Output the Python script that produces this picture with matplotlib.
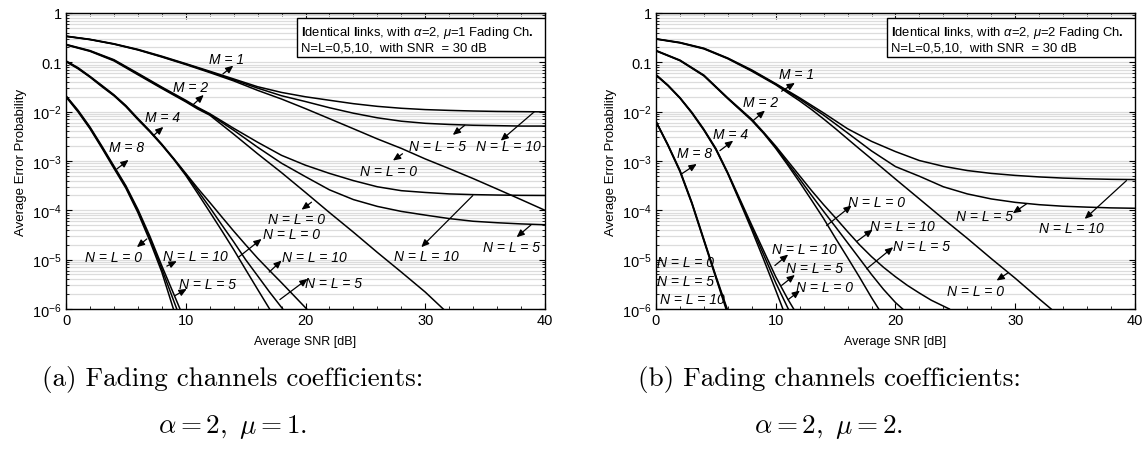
import numpy as np
import matplotlib.pyplot as plt
from matplotlib.patches import Rectangle
from matplotlib.ticker import (FixedLocator, FixedFormatter, MultipleLocator,
                               LogLocator, NullFormatter)

plt.rcParams['font.family'] = ['Liberation Sans', 'DejaVu Sans']
plt.rcParams['mathtext.fontset'] = 'custom'
plt.rcParams['mathtext.rm'] = 'Liberation Sans'
plt.rcParams['mathtext.it'] = 'Liberation Sans:italic'
plt.rcParams['mathtext.bf'] = 'Liberation Sans:bold'
plt.rcParams['axes.unicode_minus'] = False

# ---------------- panel (a): alpha=2, mu=1 ----------------
a_m1_snr = [0, 2, 4, 6, 8, 10, 12, 14, 16, 18, 20, 22, 24, 26, 28, 30, 32, 34, 36, 38, 40]
a_m1_nl0 = [0.335, 0.288, 0.233, 0.178, 0.128, 0.090, 0.062, 0.042, 0.027, 0.018, 0.0115,
            0.0072, 0.0045, 0.0028, 0.0018, 0.0011, 7.0e-4, 4.4e-4, 2.7e-4, 1.65e-4, 1.0e-4]
a_m1_nl5 = [0.337, 0.29, 0.235, 0.18, 0.13, 0.092, 0.064, 0.044, 0.030, 0.021, 0.016,
            0.012, 0.0093, 0.0075, 0.0064, 0.0058, 0.0055, 0.0053, 0.0052, 0.0051, 0.0051]
a_m1_nl10 = [0.34, 0.293, 0.238, 0.183, 0.133, 0.094, 0.066, 0.046, 0.032, 0.0245, 0.020,
             0.017, 0.0145, 0.0128, 0.0117, 0.011, 0.0106, 0.0103, 0.0101, 0.0100, 0.0099]

a_m2_snr = [0, 2, 4, 6, 8, 10, 11, 12, 14, 16, 18, 20, 22, 24, 26, 28, 30, 32, 34, 36, 38, 40]
a_m2_nl5 = [0.228, 0.17, 0.11, 0.058, 0.0305, 0.0164, 0.0118, 0.0088, 0.0042, 0.0019, 9.0e-4,
            4.8e-4, 2.6e-4, 1.65e-4, 1.2e-4, 9.5e-5, 8.0e-5, 6.8e-5, 6.0e-5, 5.6e-5, 5.3e-5, 5.1e-5]
a_m2_nl10 = [0.231, 0.173, 0.113, 0.06, 0.0315, 0.017, 0.0122, 0.0091, 0.0046, 0.0024, 0.0013,
             8.2e-4, 5.6e-4, 4.0e-4, 3.0e-4, 2.5e-4, 2.3e-4, 2.15e-4, 2.08e-4, 2.04e-4, 2.01e-4, 2.0e-4]
a_m2_nl0_snr = [0, 2, 4, 6, 8, 10, 11, 12, 14, 16, 18, 20, 22, 24, 26, 28, 30, 31.5]
a_m2_nl0 = [0.225, 0.167, 0.107, 0.056, 0.0295, 0.0158, 0.0113, 0.0085, 0.0035, 0.0014, 5.8e-4,
            2.3e-4, 9.0e-5, 3.6e-5, 1.4e-5, 5.6e-6, 2.2e-6, 1.0e-6]

a_m4_nl0_snr = [0, 1, 2, 3, 4, 5, 6, 7, 8, 9, 10, 11, 12, 13, 14, 15, 16, 17]
a_m4_nl0 = [0.103, 0.074, 0.05, 0.032, 0.021, 0.0126, 0.0069, 0.0039, 0.0021, 0.00107, 5.1e-4,
            2.2e-4, 9.3e-5, 3.9e-5, 1.6e-5, 6.3e-6, 2.5e-6, 1.0e-6]
a_m4_nl5_snr = [0, 1, 2, 3, 4, 5, 6, 7, 8, 9, 10, 11, 12, 13, 14, 15, 16, 17, 18.1]
a_m4_nl5 = [0.105, 0.076, 0.051, 0.033, 0.0215, 0.013, 0.0071, 0.004, 0.00215, 0.0011, 5.4e-4,
            2.5e-4, 1.15e-4, 5.1e-5, 2.3e-5, 1.0e-5, 4.7e-6, 2.2e-6, 1.0e-6]
a_m4_nl10_snr = [0, 1, 2, 3, 4, 5, 6, 7, 8, 9, 10, 11, 12, 13, 14, 15, 16, 17, 18, 19, 20.1]
a_m4_nl10 = [0.107, 0.078, 0.052, 0.034, 0.022, 0.0133, 0.0073, 0.0041, 0.0022, 0.00112, 5.6e-4,
             2.8e-4, 1.45e-4, 7.4e-5, 3.8e-5, 2.0e-5, 1.07e-5, 6.0e-6, 3.4e-6, 1.9e-6, 1.0e-6]

a_m8_nl0_snr = [0, 1, 2, 3, 4, 5, 6, 7, 8, 8.97]
a_m8_nl0 = [0.0198, 0.0099, 0.0045, 0.00182, 7.1e-4, 2.8e-4, 9.0e-5, 2.4e-5, 5.6e-6, 1.0e-6]
a_m8_nl5_snr = [0, 1, 2, 3, 4, 5, 6, 7, 8, 9, 9.25]
a_m8_nl5 = [0.0204, 0.0103, 0.0047, 0.0019, 7.5e-4, 3.0e-4, 9.8e-5, 2.7e-5, 6.5e-6, 1.45e-6, 1.0e-6]
a_m8_nl10_snr = [0, 1, 2, 3, 4, 5, 6, 7, 8, 9, 9.52]
a_m8_nl10 = [0.021, 0.0107, 0.0049, 0.002, 7.9e-4, 3.15e-4, 1.05e-4, 3.0e-5, 7.5e-6, 2.0e-6, 1.0e-6]

# ---------------- panel (b): alpha=2, mu=2 ----------------
b_m1_snr = [0, 2, 4, 6, 8, 10, 12, 14, 16, 18, 20, 22, 24, 26, 28, 30, 32, 34, 36, 38, 40]
b_m1_nl0_snr = [0, 2, 4, 6, 8, 10, 11, 12, 13, 14, 15, 16, 17, 18, 20, 22, 24, 26, 28, 30, 32, 33]
b_m1_nl0 = [0.295, 0.247, 0.187, 0.118, 0.066, 0.035, 0.024, 0.0165, 0.011, 0.0071, 0.0045,
            0.0028, 0.00175, 0.0011, 4.3e-4, 1.7e-4, 6.7e-5, 2.7e-5, 1.05e-5, 4.2e-6, 1.6e-6, 1.0e-6]
b_m1_nl5 = [0.298, 0.25, 0.19, 0.12, 0.068, 0.036, 0.018, 0.0085, 0.0037, 0.0016, 7.7e-4,
            4.9e-4, 3.0e-4, 2.15e-4, 1.7e-4, 1.45e-4, 1.3e-4, 1.21e-4, 1.16e-4, 1.12e-4, 1.1e-4]
b_m1_nl10 = [0.3, 0.253, 0.193, 0.122, 0.07, 0.037, 0.019, 0.0094, 0.0045, 0.0025, 0.00155,
             0.00102, 7.8e-4, 6.4e-4, 5.6e-4, 5.1e-4, 4.75e-4, 4.5e-4, 4.35e-4, 4.25e-4, 4.2e-4]

b_m2_nl0_snr = [0, 2, 4, 6, 8, 9, 10, 11, 12, 13, 14, 15, 16, 17, 18, 18.6]
b_m2_nl0 = [0.17, 0.108, 0.053, 0.0183, 0.0066, 0.0036, 0.0018, 8.3e-4, 3.7e-4, 1.6e-4, 6.8e-5,
            2.7e-5, 1.1e-5, 4.4e-6, 1.7e-6, 1.0e-6]
b_m2_nl5_snr = [0, 2, 4, 6, 8, 9, 10, 11, 12, 13, 14, 15, 16, 17, 18, 19, 20, 20.6]
b_m2_nl5 = [0.172, 0.109, 0.054, 0.0186, 0.0068, 0.0037, 0.0019, 9.0e-4, 4.3e-4, 2.0e-4, 9.5e-5,
            4.6e-5, 2.2e-5, 1.05e-5, 5.0e-6, 2.5e-6, 1.35e-6, 1.0e-6]
b_m2_nl10_snr = [0, 2, 4, 6, 8, 9, 10, 11, 12, 13, 14, 15, 16, 17, 18, 19, 20, 21, 22, 23, 24.5]
b_m2_nl10 = [0.174, 0.111, 0.055, 0.019, 0.007, 0.0038, 0.002, 1.0e-3, 5.0e-4, 2.5e-4, 1.3e-4,
             7.0e-5, 3.7e-5, 2.0e-5, 1.15e-5, 7.0e-6, 4.5e-6, 3.0e-6, 2.1e-6, 1.5e-6, 1.0e-6]

b_m4_nl0_snr = [0, 1, 2, 3, 4, 5, 6, 7, 8, 9, 10, 10.6]
b_m4_nl0 = [0.0545, 0.0335, 0.0187, 0.0093, 0.0042, 0.0017, 5.5e-4, 1.5e-4, 4.0e-5, 1.0e-5, 2.4e-6, 1.0e-6]
b_m4_nl5_snr = [0, 1, 2, 3, 4, 5, 6, 7, 8, 9, 10, 11.05]
b_m4_nl5 = [0.0555, 0.034, 0.019, 0.0095, 0.0043, 0.00175, 5.6e-4, 1.6e-4, 4.5e-5, 1.25e-5, 3.4e-6, 1.0e-6]
b_m4_nl10_snr = [0, 1, 2, 3, 4, 5, 6, 7, 8, 9, 10, 11, 11.5]
b_m4_nl10 = [0.0565, 0.0345, 0.0193, 0.0097, 0.0044, 0.0018, 5.8e-4, 1.7e-4, 5.0e-5, 1.5e-5,
             4.5e-6, 1.6e-6, 1.0e-6]

b_m8_nl0_snr = [0, 1, 2, 3, 4, 5, 5.85]
b_m8_nl0 = [0.0062, 0.00205, 6.1e-4, 1.35e-4, 2.4e-5, 4.3e-6, 1.0e-6]
b_m8_nl5_snr = [0, 1, 2, 3, 4, 5, 5.9]
b_m8_nl5 = [0.0063, 0.0021, 6.3e-4, 1.4e-4, 2.5e-5, 4.5e-6, 1.0e-6]
b_m8_nl10_snr = [0, 1, 2, 3, 4, 5, 5.95]
b_m8_nl10 = [0.0064, 0.00215, 6.5e-4, 1.45e-4, 2.6e-5, 4.7e-6, 1.0e-6]

# labels: (text, text x, text y, arrow tail x, tail y, arrow head x, head y)
a_labels = [
    ('M = 1', 13.4, 0.117, 13.1, 0.058, 13.97, 0.0855),
    ('M = 2', 10.4, 0.0312, 10.6, 0.0137, 11.5, 0.0218),
    ('M = 4', 8.07, 7.7e-3, 7.3, 3.27e-3, 8.13, 4.9e-3),
    ('M = 8', 5.08, 1.93e-3, 4.25, 6.9e-4, 5.22, 1.05e-3),
    ('N = L = 5', 31.05, 2.05e-3, 33.3, 5.3e-3, 32.3, 3.37e-3),
    ('N = L = 10', 36.9, 2.05e-3, 39.1, 9.9e-3, 36.3, 2.58e-3),
    ('N = L = 0', 26.9, 6.4e-4, 28.1, 1.4e-3, 27.3, 1.02e-3),
    ('N = L = 0', 19.25, 6.7e-5, 20.5, 1.46e-4, 19.67, 1.03e-4),
    ('N = L = 0', 18.8, 3.3e-5, 14.4, 1.12e-5, 16.33, 2.63e-5),
    ('N = L = 10', 30.1, 1.21e-5, 33.97, 1.99e-4, 29.67, 1.79e-5),
    ('N = L = 5', 37.17, 1.79e-5, 38.83, 5.06e-5, 37.63, 2.85e-5),
    ('N = L = 10', 20.78, 1.12e-5, 16.97, 5.6e-6, 18.0, 9.6e-6),
    ('N = L = 5', 22.3, 3.4e-6, 17.86, 1.55e-6, 20.17, 4.07e-6),
    ('N = L = 0', 3.97, 1.12e-5, 6.75, 2.63e-5, 5.92, 1.79e-5),
    ('N = L = 10', 10.78, 1.21e-5, 8.42, 7.4e-6, 9.25, 9.3e-6),
    ('N = L = 5', 11.78, 3.2e-6, 9.11, 1.87e-6, 10.08, 2.55e-6),
]
b_labels = [
    ('M = 1', 11.74, 0.058, 10.49, 0.0259, 11.6, 0.0382),
    ('M = 2', 8.75, 0.0155, 8.12, 6.6e-3, 9.1, 0.0105),
    ('M = 4', 6.24, 3.5e-3, 5.34, 1.62e-3, 6.45, 2.58e-3),
    ('M = 8', 3.19, 1.46e-3, 2.15, 5.5e-4, 3.4, 8.7e-4),
    ('N = L = 0', 26.7, 2.36e-6, 29.4, 5.4e-6, 28.44, 3.77e-6),
    ('N = L = 5', 27.46, 7.8e-5, 30.94, 1.35e-4, 29.8, 8.7e-5),
    ('N = L = 10', 34.7, 4.3e-5, 39.29, 4.0e-4, 35.8, 6.7e-5),
    ('N = L = 0', 18.42, 1.46e-4, 14.25, 4.9e-5, 16.34, 1.25e-4),
    ('N = L = 10', 20.58, 4.9e-5, 16.75, 2.32e-5, 18.09, 4.06e-5),
    ('N = L = 5', 22.18, 1.93e-5, 17.59, 6.5e-6, 19.81, 1.79e-5),
    ('N = L = 10', 12.37, 1.65e-5, 9.93, 7.6e-6, 11.04, 1.27e-5),
    ('N = L = 5', 13.27, 6.7e-6, 10.49, 3.0e-6, 11.6, 4.9e-6),
    ('N = L = 0', 14.04, 2.77e-6, 11.04, 1.55e-6, 12.02, 2.36e-6),
]
b_plain_labels = [('N = L = 0', 0.08, 8.9e-6), ('N = L = 5', 0.08, 3.76e-6),
                  ('N = L = 10', 0.33, 1.6e-6)]

decades = [1e-6, 1e-5, 1e-4, 1e-3, 1e-2, 1e-1, 1]
decade_labels = [r'$10^{-6}$', r'$10^{-5}$', r'$10^{-4}$', r'$10^{-3}$', r'$10^{-2}$', '0.1', '1']

a_curves = [(a_m1_snr, a_m1_nl0), (a_m1_snr, a_m1_nl5), (a_m1_snr, a_m1_nl10),
            (a_m2_nl0_snr, a_m2_nl0), (a_m2_snr, a_m2_nl5), (a_m2_snr, a_m2_nl10),
            (a_m4_nl0_snr, a_m4_nl0), (a_m4_nl5_snr, a_m4_nl5), (a_m4_nl10_snr, a_m4_nl10),
            (a_m8_nl0_snr, a_m8_nl0), (a_m8_nl5_snr, a_m8_nl5), (a_m8_nl10_snr, a_m8_nl10)]
b_curves = [(b_m1_nl0_snr, b_m1_nl0), (b_m1_snr, b_m1_nl5), (b_m1_snr, b_m1_nl10),
            (b_m2_nl0_snr, b_m2_nl0), (b_m2_nl5_snr, b_m2_nl5), (b_m2_nl10_snr, b_m2_nl10),
            (b_m4_nl0_snr, b_m4_nl0), (b_m4_nl5_snr, b_m4_nl5), (b_m4_nl10_snr, b_m4_nl10),
            (b_m8_nl0_snr, b_m8_nl0), (b_m8_nl5_snr, b_m8_nl5), (b_m8_nl10_snr, b_m8_nl10)]


def setup(ax, mu):
    ax.set_yscale('log')
    ax.set_xlim(0, 40)
    ax.set_ylim(1e-6, 1)
    ax.xaxis.set_major_locator(MultipleLocator(10))
    ax.xaxis.set_minor_locator(MultipleLocator(2))
    ax.yaxis.set_major_locator(FixedLocator(decades))
    ax.yaxis.set_major_formatter(FixedFormatter(decade_labels))
    ax.yaxis.set_minor_locator(LogLocator(base=10, subs=np.arange(2, 10)))
    ax.yaxis.set_minor_formatter(NullFormatter())
    ax.grid(True, axis='y', which='both', color='#dcdcdc', lw=0.9)
    ax.set_axisbelow(True)
    ax.tick_params(which='both', direction='in', top=True, right=True, labelsize=10.5)
    ax.tick_params(which='major', length=4, width=0.8, pad=3)
    ax.tick_params(which='minor', length=2.5, width=0.6)
    for s in ax.spines.values():
        s.set_linewidth(1.0)
    ax.set_xlabel('Average SNR [dB]', fontsize=9, labelpad=6)
    ax.set_ylabel('Average Error Probability', fontsize=9.5, labelpad=4)
    ax.add_patch(Rectangle((0.483, 0.85), 0.517, 0.134, transform=ax.transAxes,
                           facecolor='white', edgecolor='black', lw=1.0, zorder=5))
    ax.text(0.491, 0.936,
            r'$\mathbf{I}$dentical $\mathbf{l}$inks, with $\alpha$=2, $\mu$=%d Fading Ch$\mathbf{.}$' % mu,
            transform=ax.transAxes, fontsize=9.4, va='center', ha='left', zorder=6)
    ax.text(0.491, 0.885, 'N=L=0,5,10,  with SNR  = 30 dB', transform=ax.transAxes,
            fontsize=9.4, va='center', ha='left', zorder=6)


def draw_labels(ax, labels):
    for txt, lx, ly, tx, ty, hx, hy in labels:
        ax.annotate('', xy=(hx, hy), xytext=(tx, ty),
                    arrowprops=dict(arrowstyle='-|>,head_length=0.45,head_width=0.2',
                                    color='k', lw=0.9, shrinkA=0, shrinkB=0))
        ax.text(lx, ly, txt, ha='center', va='center', style='italic', fontsize=10)


fig = plt.figure(figsize=(11.44, 4.52), dpi=100)
ax_a = fig.add_axes([0.0577, 0.3142, 0.4187, 0.6549])
ax_b = fig.add_axes([0.5734, 0.3142, 0.4187, 0.6549])

for ax, curves, labels, mu in [(ax_a, a_curves, a_labels, 1), (ax_b, b_curves, b_labels, 2)]:
    setup(ax, mu)
    for snr, pe in curves:
        ax.plot(snr, pe, color='black', lw=1.1)
    draw_labels(ax, labels)

for txt, lx, ly in b_plain_labels:
    ax_b.text(lx, ly, txt, ha='left', va='center', style='italic', fontsize=10)

cap_kw = dict(ha='center', va='center', fontsize=19.5, family='cmr10', math_fontfamily='cm')
fig.text(0.2032, 0.161, '(a) Fading channels coefficients:', **cap_kw)
fig.text(0.2032, 0.055, r'$\alpha = 2,\ \mu = 1.$', **cap_kw)
fig.text(0.7247, 0.161, '(b) Fading channels coefficients:', **cap_kw)
fig.text(0.7247, 0.055, r'$\alpha = 2,\ \mu = 2.$', **cap_kw)

fig.savefig('out.png', dpi=100)
